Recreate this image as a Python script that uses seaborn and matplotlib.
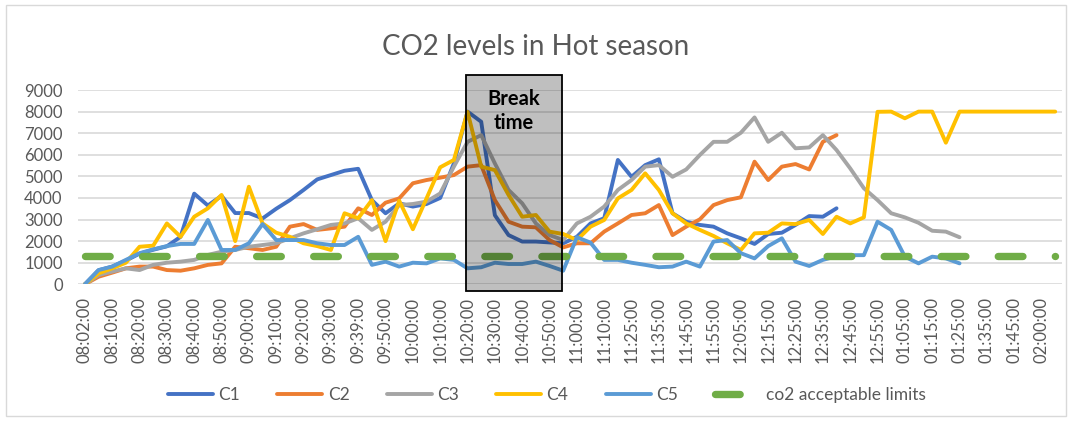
import numpy as np
import pandas as pd
import seaborn as sns
import matplotlib.pyplot as plt
from matplotlib.patches import Rectangle

# x categories (only every second one is labelled on the axis)
times = ['08:02:00', '08:05:00', '08:10:00', '08:15:00', '08:20:00', '08:25:00',
         '08:30:00', '08:35:00', '08:40:00', '08:45:00', '08:50:00', '08:55:00',
         '09:00:00', '09:05:00', '09:10:00', '09:15:00', '09:20:00', '09:25:00',
         '09:30:00', '09:35:00', '09:39:00', '09:45:00', '09:50:00', '09:55:00',
         '10:00:00', '10:05:00', '10:10:00', '10:15:00', '10:20:00', '10:25:00',
         '10:30:00', '10:35:00', '10:40:00', '10:45:00', '10:50:00', '10:55:00',
         '11:00:00', '11:05:00', '11:10:00', '11:20:00', '11:25:00', '11:30:00',
         '11:35:00', '11:40:00', '11:45:00', '11:50:00', '11:55:00', '12:00:00',
         '12:05:00', '12:10:00', '12:15:00', '12:20:00', '12:25:00', '12:30:00',
         '12:35:00', '12:40:00', '12:45:00', '12:50:00', '12:55:00', '01:00:00',
         '01:05:00', '01:10:00', '01:15:00', '01:20:00', '01:25:00', '01:30:00',
         '01:35:00', '01:40:00', '01:45:00', '01:50:00', '02:00:00', '02:05:00']

c1 = [0, 650, 820, 1100, 1420, 1600, 1760, 2200, 4200, 3650, 4100, 3300,
      3300, 3050, 3500, 3900, 4370, 4860, 5060, 5260, 5350, 3900, 3290, 3750,
      3600, 3720, 4000, 5600, 8000, 7530, 3200, 2280, 1980, 1980, 1940, 1900,
      2200, 2820, 3060, 5760, 4980, 5520, 5790, 3290, 2900, 2750, 2670, 2360,
      2130, 1870, 2330, 2390, 2750, 3160, 3130, 3520]

c2 = [0, 350, 540, 740, 820, 820, 660, 630, 740, 900, 970, 1740,
      1670, 1590, 1740, 2670, 2790, 2520, 2590, 2670, 3520, 3210, 3780, 3980,
      4680, 4830, 4940, 5060, 5450, 5520, 3900, 2900, 2670, 2640, 2050, 1710,
      1900, 1900, 2440, 2820, 3210, 3290, 3670, 2280, 2670, 3010, 3670, 3900,
      4030, 5680, 4830, 5450, 5570, 5320, 6600, 6910]

c3 = [0, 430, 590, 740, 660, 900, 1000, 1050, 1130, 1360, 1510, 1590,
      1740, 1820, 1900, 2130, 2360, 2550, 2750, 2820, 3060, 2520, 2900, 3670,
      3720, 3830, 4210, 5450, 6600, 6910, 5600, 4370, 3750, 2820, 2280, 2050,
      2820, 3130, 3600, 4370, 4830, 5450, 5520, 4980, 5320, 5990, 6600, 6600,
      7020, 7730, 6600, 7020, 6300, 6340, 6910, 6220, 5370, 4450, 3900, 3290,
      3100, 2850, 2480, 2440, 2180]

c4 = [0, 510, 740, 1000, 1740, 1790, 2820, 2200, 3130, 3520, 4140, 2000,
      4520, 2820, 2390, 2200, 1900, 1770, 1590, 3290, 3060, 3900, 2000, 3870,
      2550, 3980, 5420, 5760, 7990, 5450, 5290, 4140, 3130, 3210, 2440, 2330,
      2050, 2670, 2980, 3980, 4370, 5140, 4370, 3290, 2820, 2520, 2240, 1900,
      1590, 2360, 2390, 2820, 2790, 2980, 2330, 3130, 2820, 3100, 7990, 8000,
      7690, 8000, 8000, 6560, 8000, 8000, 8000, 8000, 8000, 8000, 8000, 8000]

c5 = [0, 660, 820, 1130, 1440, 1620, 1770, 1870, 1870, 2980, 1590, 1590,
      1900, 2790, 2050, 2050, 2050, 1900, 1820, 1820, 2200, 900, 1050, 820,
      1000, 970, 1200, 1130, 740, 790, 1000, 940, 940, 1050, 850, 630,
      2180, 1930, 1130, 1130, 1000, 900, 790, 820, 1050, 820, 1980, 2050,
      1440, 1200, 1770, 2130, 1050, 850, 1130, 1300, 1350, 1350, 2900, 2520,
      1280, 970, 1280, 1200, 970]

co2_limit = 1300

n = len(times)


def pad(vals):
    return list(vals) + [np.nan] * (n - len(vals))


df = pd.DataFrame({'idx': range(n), 'C1': pad(c1), 'C2': pad(c2), 'C3': pad(c3),
                   'C4': pad(c4), 'C5': pad(c5),
                   'co2 acceptable limits': [co2_limit] * n})

colors = {'C1': '#4472C4', 'C2': '#ED7D31', 'C3': '#A5A5A5',
          'C4': '#FFC000', 'C5': '#5B9BD5', 'co2 acceptable limits': '#70AD47'}

sns.set_style('white')
plt.rcParams['font.family'] = ['Lato', 'DejaVu Sans']
text_grey = '#595959'

fig = plt.figure(figsize=(10.72, 4.21), dpi=100)
ax = fig.add_axes([0.0728, 0.3247, 0.9179, 0.4615])

for name in ['C1', 'C2', 'C3', 'C4', 'C5']:
    sns.lineplot(data=df, x='idx', y=name, ax=ax, color=colors[name], lw=2.8,
                 label=name, solid_joinstyle='round', solid_capstyle='round')

sns.lineplot(data=df, x='idx', y='co2 acceptable limits', ax=ax,
             color=colors['co2 acceptable limits'], lw=5.3,
             linestyle=(0, (3.35, 4.4)), dash_capstyle='round',
             label='co2 acceptable limits')

ax.set_xlim(-0.5, n - 0.5)
ax.set_ylim(0, 9000)
ax.set_yticks(range(0, 9001, 1000))
ax.yaxis.grid(True, color='#D9D9D9', lw=1.2)
ax.set_axisbelow(True)
for s in ax.spines.values():
    s.set_visible(False)
ax.set_xticks(range(0, n, 2))
ax.set_xticklabels(times[::2], rotation=90)
ax.tick_params(axis='both', length=0, colors=text_grey, labelsize=12)
ax.tick_params(axis='y', pad=11)
ax.tick_params(axis='x', pad=9)
ax.set_xlabel('')
ax.set_ylabel('')

# break time box
ax.add_patch(Rectangle((27.9, -300), 7.0, 10000, facecolor=(0, 0, 0, 0.25),
                       edgecolor='black', lw=1.3, clip_on=False, zorder=5))
ax.text(31.4, 8050, 'Break\ntime', ha='center', va='center', fontsize=14.5,
        fontweight='bold', color='black', linespacing=1.25, zorder=6)

fig.text(0.5, 0.888, 'CO2 levels in Hot season', ha='center', va='center',
         fontsize=20, color=text_grey)

ax.legend(loc='center', bbox_to_anchor=(0.51, 0.062), bbox_transform=fig.transFigure,
          ncol=6, frameon=False, fontsize=12.5, handlelength=2.6, columnspacing=2.15,
          handletextpad=0.3, labelcolor=text_grey)

fig.add_artist(Rectangle((6 / 1072, 5 / 421), 1060 / 1072, 411 / 421,
                         transform=fig.transFigure, fill=False,
                         edgecolor='#D9D9D9', lw=1))

fig.savefig('out.png', dpi=100)
